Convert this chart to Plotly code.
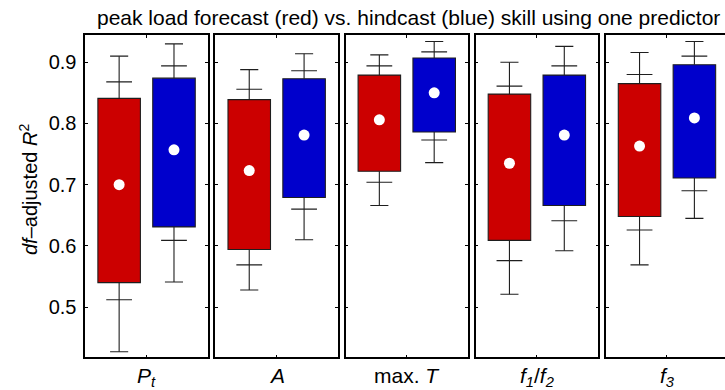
import plotly.graph_objects as go

# Predictors (one panel each) and their axis labels
predictors = ["P_t", "A", "max. T", "f1/f2", "f3"]
panel_labels = ["<i>P</i><sub><i>t</i></sub>", "<i>A</i>", "max. <i>T</i>",
                "<i>f</i><sub><i>1</i></sub>/<i>f</i><sub><i>2</i></sub>",
                "<i>f</i><sub><i>3</i></sub>"]

# Forecast (red) statistics per predictor
fc_min = [0.427, 0.528, 0.666, 0.521, 0.569]
fc_plo = [0.512, 0.569, 0.704, 0.576, 0.626]
fc_q1 = [0.540, 0.594, 0.722, 0.609, 0.648]
fc_q3 = [0.841, 0.839, 0.879, 0.848, 0.865]
fc_phi = [0.868, 0.856, 0.894, 0.861, 0.880]
fc_max = [0.910, 0.888, 0.912, 0.900, 0.916]
fc_mean = [0.700, 0.723, 0.806, 0.735, 0.763]

# Hindcast (blue) statistics per predictor
hc_min = [0.541, 0.610, 0.736, 0.592, 0.645]
hc_plo = [0.609, 0.660, 0.773, 0.641, 0.690]
hc_q1 = [0.631, 0.679, 0.786, 0.666, 0.711]
hc_q3 = [0.874, 0.873, 0.907, 0.879, 0.896]
hc_phi = [0.894, 0.886, 0.917, 0.894, 0.910]
hc_max = [0.930, 0.914, 0.934, 0.926, 0.934]
hc_mean = [0.757, 0.781, 0.850, 0.781, 0.809]

y_ticks = [0.5, 0.6, 0.7, 0.8, 0.9]

W, H = 725, 390
RED, BLUE = "#cc0000", "#0000cc"
LINE = "#1e1e1e"
FONT = "Liberation Sans, Arial, sans-serif"

# panel geometry in pixels
p_left0, p_w, p_gap = 85.3, 122.7, 7.4
p_top, p_bot = 34.7, 357.3
x_lo, x_hi = 0.383, 2.62
box_w, cap_w, pct_w = 0.775, 0.33, 0.47

fig = go.Figure()
layout = dict(
    width=W, height=H, margin=dict(l=0, r=0, t=0, b=0),
    paper_bgcolor="white", plot_bgcolor="white", showlegend=False,
    font=dict(family=FONT, color="black"),
)

ydom = [1 - p_bot / H, 1 - p_top / H]
annotations = []

for i in range(len(predictors)):
    left = p_left0 + i * (p_w + p_gap)
    right = left + p_w
    hi = x_hi
    if right > W:
        hi = x_lo + (x_hi - x_lo) * (W - left) / p_w
        right = W
    sfx = "" if i == 0 else str(i + 1)
    xa, ya = "x" + sfx, "y" + sfx
    last = i == len(predictors) - 1

    layout["xaxis" + sfx] = dict(
        domain=[left / W, right / W], range=[x_lo, hi], showgrid=False,
        zeroline=False, showline=True, linecolor="black", linewidth=1.6,
        mirror="ticks", ticks="inside", ticklen=3, tickcolor="black",
        tickvals=[1.5], showticklabels=False, fixedrange=True,
    )
    layout["yaxis" + sfx] = dict(
        domain=ydom, range=[0.418, 0.945], showgrid=False, zeroline=False,
        showline=True, linecolor="black", linewidth=1.6,
        mirror=False if last else "ticks", ticks="inside", ticklen=3,
        tickcolor="black", tickvals=y_ticks,
        ticktext=[f"{v:.1f}" for v in y_ticks], showticklabels=(i == 0),
        tickfont=dict(size=20, family=FONT), ticklabelstandoff=3,
        anchor=xa, fixedrange=True,
    )

    groups = [
        (1.0, RED, fc_min[i], fc_plo[i], fc_q1[i], fc_q3[i], fc_phi[i], fc_max[i], fc_mean[i]),
        (2.0, BLUE, hc_min[i], hc_plo[i], hc_q1[i], hc_q3[i], hc_phi[i], hc_max[i], hc_mean[i]),
    ]
    for pos, col, vmin, plo, q1, q3, phi, vmax, mean in groups:
        # whiskers and tick marks
        wx, wy = [], []
        wx += [pos, pos, None, pos, pos, None]
        wy += [vmin, q1, None, q3, vmax, None]
        for v, w in [(vmin, cap_w), (vmax, cap_w), (plo, pct_w), (phi, pct_w)]:
            wx += [pos - w / 2, pos + w / 2, None]
            wy += [v, v, None]
        fig.add_trace(go.Scatter(x=wx, y=wy, mode="lines", xaxis=xa, yaxis=ya,
                                 line=dict(color=LINE, width=1.1),
                                 hoverinfo="skip"))
        # interquartile box
        fig.add_trace(go.Bar(x=[pos], y=[q3 - q1], base=[q1], width=box_w,
                             marker=dict(color=col, line=dict(color=LINE, width=1.1)),
                             xaxis=xa, yaxis=ya))
        # mean marker
        fig.add_trace(go.Scatter(x=[pos], y=[mean], mode="markers", xaxis=xa,
                                 yaxis=ya, marker=dict(color="white", size=11),
                                 hoverinfo="skip"))

    annotations.append(dict(
        text=panel_labels[i], xref="paper", yref="paper",
        x=(left + p_w / 2) / W, y=1 - 362 / H, xanchor="center", yanchor="top",
        showarrow=False, font=dict(size=21, family=FONT),
    ))

annotations.append(dict(
    text="peak load forecast (red) vs. hindcast (blue) skill using one predictor",
    xref="paper", yref="paper", x=408 / W,
    y=1 - 4 / H, xanchor="center", yanchor="top", showarrow=False,
    font=dict(size=21, family=FONT),
))
annotations.append(dict(
    text="<i>df</i>\u2013adjusted <i>R</i><sup>2</sup>", xref="paper", yref="paper",
    x=28 / W, y=1 - 190 / H, xanchor="center", yanchor="middle", textangle=-90,
    showarrow=False, font=dict(size=20, family=FONT),
))

layout["annotations"] = annotations
layout["barmode"] = "overlay"
fig.update_layout(**layout)
fig.write_html("out.html")
